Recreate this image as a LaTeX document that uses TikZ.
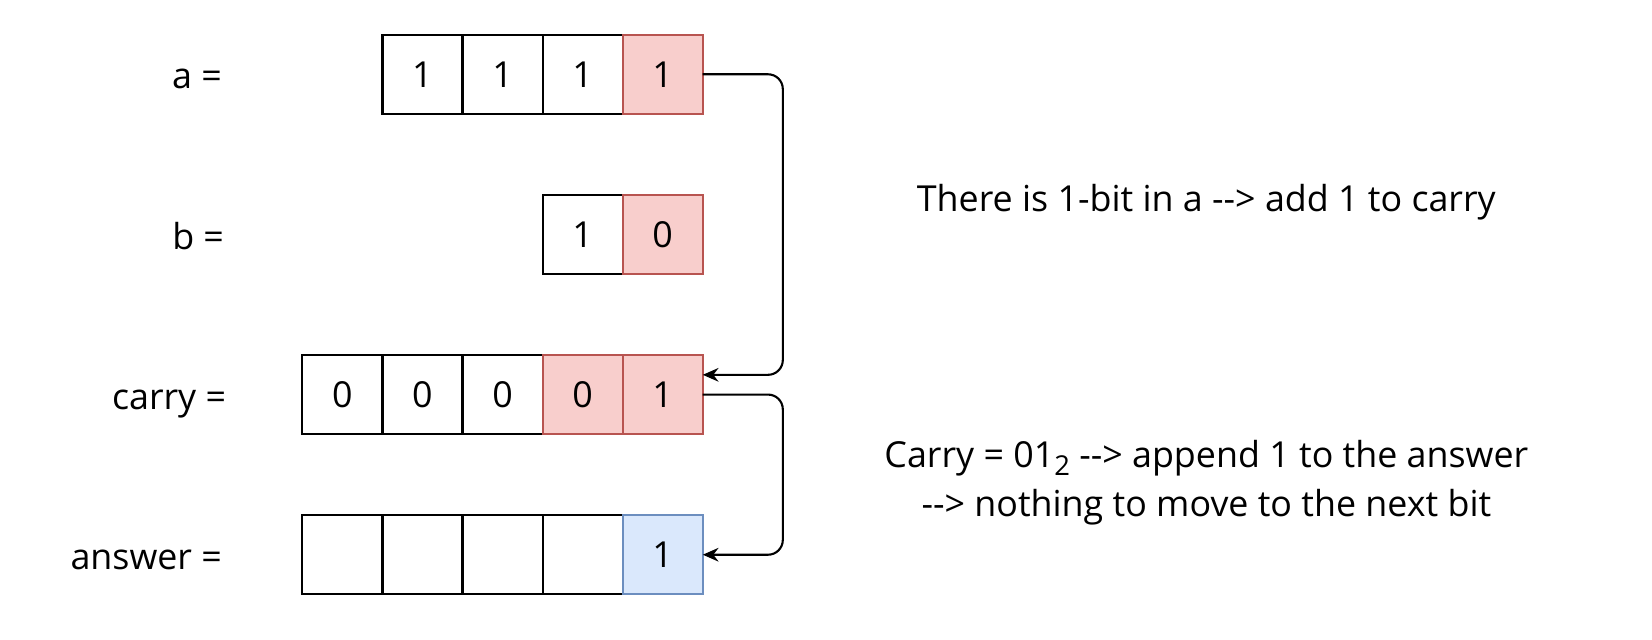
\documentclass[tikz,border=0pt]{standalone}
\usepackage{fontspec}
\setmainfont{Open Sans}
\usetikzlibrary{arrows.meta,calc}
\definecolor{redfill}{HTML}{F8CECC}
\definecolor{redline}{HTML}{B85450}
\definecolor{bluefill}{HTML}{DAE8FC}
\definecolor{blueline}{HTML}{6C8EBF}
\newcommand\arrtxt{-\kern0pt-\kern0pt>}
\begin{document}
\begin{tikzpicture}[x=0.5pt,y=-0.5pt,
  cell/.style={draw=black,line width=1pt,minimum width=38pt,minimum height=37.5pt,inner sep=0pt,outer sep=0pt,font=\fontsize{17}{20}\selectfont},
  redcell/.style={cell,draw=redline,fill=redfill},
  bluecell/.style={cell,draw=blueline,fill=bluefill},
  lbl/.style={anchor=mid east,inner sep=0pt,font=\fontsize{17}{20}\selectfont},
  note/.style={anchor=base,inner sep=0pt,font=\fontsize{17}{20}\selectfont},
  conn/.style={draw,line width=1pt,rounded corners=7pt,-{Stealth[length=7.5pt,width=6.5pt,inset=2.5pt]}}]
\useasboundingbox (0,0) rectangle (1568,607);
% labels
\node[lbl] (la) at (211,79) {a =};
\node[lbl] (lb) at (213,231) {b =};
\node[lbl] (lc) at (215,383) {carry =};
\node[lbl] (ld) at (211,535) {answer =};
% a row
\node[cell] (a1) at (401,70.5) {1};
\node[cell] (a2) at (477,70.5) {1};
\node[cell] (a3) at (553,70.5) {1};
\node[redcell] (a4) at (629,70.5) {1};
% b row
\node[cell] (b1) at (553,222.5) {1};
\node[redcell] (b2) at (629,222.5) {0};
% carry row
\node[cell] (c1) at (325,374.5) {0};
\node[cell] (c2) at (401,374.5) {0};
\node[cell] (c3) at (477,374.5) {0};
\node[redcell] (c4) at (553,374.5) {0};
\node[redcell] (c5) at (629,374.5) {1};
% answer row
\node[cell] (d1) at (325,526.5) {};
\node[cell] (d2) at (401,526.5) {};
\node[cell] (d3) at (477,526.5) {};
\node[cell] (d4) at (553,526.5) {};
\node[bluecell] (d5) at (629,526.5) {1};
% notes
\node[note] (n1) at (1145,201) {There is 1-bit in a \arrtxt{} add 1 to carry};
\node[note] (n2) at (1145,444) {Carry = 01\raisebox{-0.4ex}{\fontsize{13}{13}\selectfont 2} \arrtxt{} append 1 to the answer};
\node[note] (n3) at (1145,490) {\arrtxt{} nothing to move to the next bit};
% connectors
\coordinate (t1) at ($(c5.north east)!0.25!(c5.south east)$);
\draw[conn] (a4.east) -- ++(38pt,0) |- (t1);
\draw[conn] (c5.east) -- ++(38pt,0) |- (d5.east);
\end{tikzpicture}
\end{document}
